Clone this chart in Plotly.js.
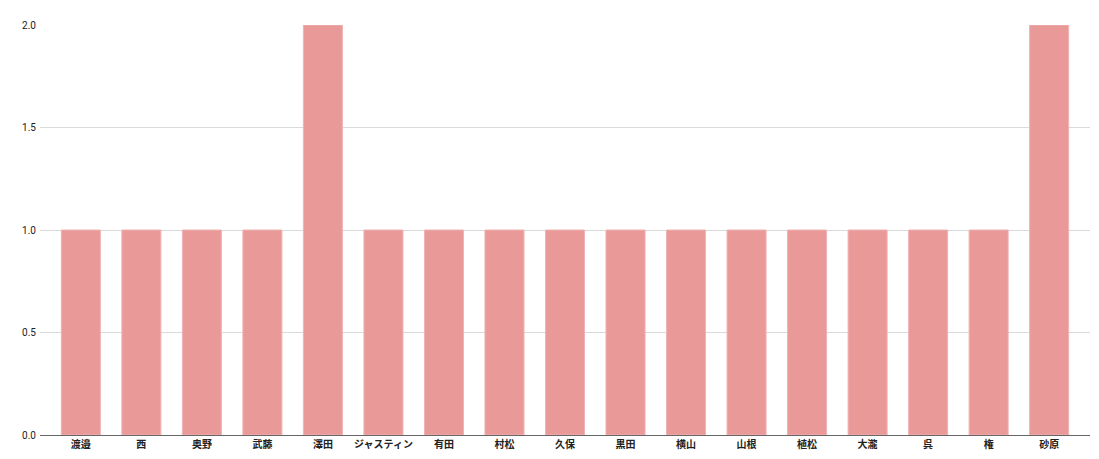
<!DOCTYPE html>
<html><head><meta charset="utf-8">
<script src="https://cdn.plot.ly/plotly-3.0.1.min.js"></script>
<style>html,body{margin:0;padding:0;background:#fff}#c{width:1099px;height:459px}</style>
</head><body><div id="c"></div>
<script>
const names = ["渡邉","西","奥野","武藤","澤田","ジャスティン","有田","村松","久保","黒田","横山","山根","植松","大瀧","呉","権","砂原"];
const counts = [1,1,1,1,2,1,1,1,1,1,1,1,1,1,1,1,2];
const yTicks = [0,0.5,1,1.5,2];

Plotly.newPlot('c', [{
  type:'bar', x:names, y:counts,
  marker:{color:'#ea9999', line:{color:'#f0b3b3', width:1}},
  width:0.645, hoverinfo:'x+y'
}], {
  width:1099, height:459,
  margin:{l:40, r:9, t:25, b:24},
  paper_bgcolor:'#fff', plot_bgcolor:'#fff',
  font:{family:'"Noto Sans CJK JP", Roboto, Arial, sans-serif', size:10, color:'#222'},
  bargap:0.35,
  xaxis:{type:'category', range:[-0.675,16.675], showgrid:false, showline:true, linecolor:'#666', linewidth:1,
         ticks:'', tickfont:{size:10, color:'#222', weight:'bold'}, fixedrange:true},
  yaxis:{range:[0,2], tickvals:yTicks, tickformat:'.1f', showgrid:true, gridcolor:'#dadada', zeroline:false,
         showline:false, ticks:'', ticklabelstandoff:3, tickfont:{size:10, color:'#222', family:'Roboto, Arial, sans-serif'}, fixedrange:true},
  showlegend:false
}, {displayModeBar:false, staticPlot:true});
</script></body></html>
